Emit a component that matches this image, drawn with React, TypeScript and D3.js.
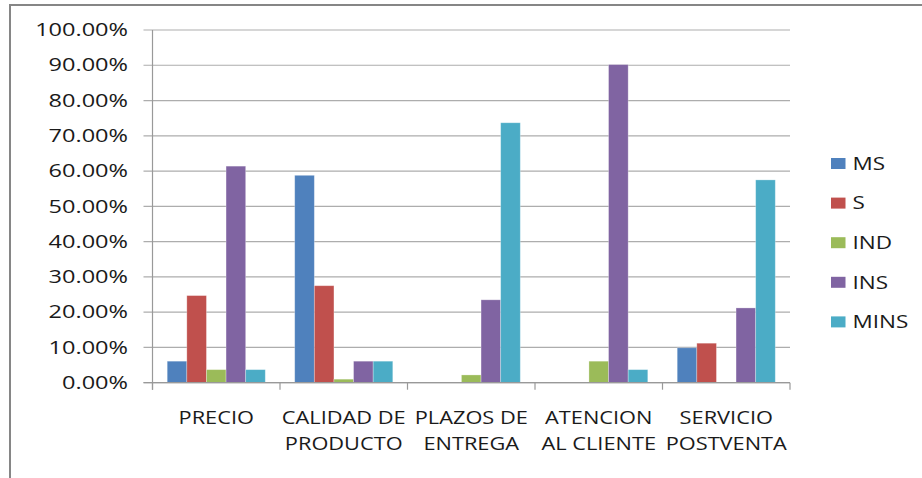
import React from "react";
import * as d3 from "d3";

const categories: string[][] = [
  ["PRECIO"],
  ["CALIDAD DE", "PRODUCTO"],
  ["PLAZOS DE", "ENTREGA"],
  ["ATENCION", "AL CLIENTE"],
  ["SERVICIO", "POSTVENTA"],
];
const seriesNames = ["MS", "S", "IND", "INS", "MINS"];
const seriesColors = ["#4F81BD", "#C0504D", "#9BBB59", "#8064A2", "#4BACC6"];
const MS = [0.061, 0.588, 0, 0, 0.099];
const S = [0.247, 0.275, 0, 0, 0.112];
const IND = [0.037, 0.01, 0.022, 0.061, 0];
const INS = [0.614, 0.061, 0.235, 0.902, 0.212];
const MINS = [0.037, 0.061, 0.737, 0.037, 0.575];
const seriesValues = [MS, S, IND, INS, MINS];
const yTicks = [0, 0.1, 0.2, 0.3, 0.4, 0.5, 0.6, 0.7, 0.8, 0.9, 1.0];

const W = 922;
const H = 478;
const left = 152.5;
const right = 790;
const top = 30;
const bottom = 382.7;
const FONT = "'Open Sans', 'DejaVu Sans', sans-serif";

export default function App() {
  const x0 = d3
    .scaleBand<number>()
    .domain(categories.map((_, i) => i))
    .range([left, right])
    .paddingInner(0)
    .paddingOuter(0);
  const x1 = d3
    .scaleBand<number>()
    .domain(seriesNames.map((_, i) => i))
    .range([0, x0.bandwidth()])
    .paddingInner(0)
    .paddingOuter(0.75);
  const y = d3.scaleLinear().domain([0, 1]).range([bottom, top]);
  const fmt = (v: number) => (v * 100).toFixed(2) + "%";
  const boundaries = d3.range(categories.length + 1).map((i) =>
    i < categories.length ? (x0(i) as number) : right
  );

  return (
    <svg
      width={W}
      height={H}
      style={{ position: "absolute", left: 0, top: 0, background: "#fff" }}
      fontFamily={FONT}
    >
      <rect x={0} y={0} width={W} height={H} fill="#fff" />
      {/* outer chart border */}
      <rect x={10} y={5} width={W + 20} height={H + 20} fill="none" stroke="#868686" strokeWidth={2} />
      {/* gridlines */}
      {yTicks.map((t) => (
        <line
          key={"g" + t}
          x1={left - 9}
          x2={right}
          y1={y(t)}
          y2={y(t)}
          stroke="#adadad"
          strokeWidth={1.2}
        />
      ))}
      {/* y labels */}
      {yTicks.map((t) => (
        <g key={"yl" + t} transform={`translate(128,${y(t) + 6.2}) scale(1.36,1)`}>
          <text x={0} y={0} textAnchor="end" fontSize={17.3} fill="#1a1a1a">
            {fmt(t)}
          </text>
        </g>
      ))}
      {/* bars */}
      {categories.map((_, ci) => (
        <g key={"c" + ci} transform={`translate(${x0(ci)},0)`}>
          {seriesValues.map((vals, si) =>
            vals[ci] > 0 ? (
              <rect
                key={si}
                x={x1(si)}
                y={y(vals[ci])}
                width={x1.bandwidth()}
                height={bottom - y(vals[ci])}
                fill={seriesColors[si]}
                stroke="rgba(255,255,255,0.35)"
                strokeWidth={0.8}
              />
            ) : null
          )}
        </g>
      ))}
      {/* y axis */}
      <line x1={left} x2={left} y1={top} y2={bottom + 7} stroke="#999" strokeWidth={1.2} />
      {/* x axis */}
      <line x1={left - 9} x2={right} y1={bottom} y2={bottom} stroke="#999" strokeWidth={1.2} />
      {boundaries.map((b, i) => (
        <line key={"xt" + i} x1={b} x2={b} y1={bottom} y2={bottom + 7} stroke="#999" strokeWidth={1.2} />
      ))}
      {/* category labels */}
      {categories.map((lines, ci) => (
        <g key={"cl" + ci} transform={`translate(${(x0(ci) as number) + x0.bandwidth() / 2},0)`}>
          {lines.map((ln, li) => (
            <g key={li} transform={`translate(0,${424.3 + li * 25.8}) scale(1.26,1)`}>
              <text x={0} y={0} textAnchor="middle" fontSize={17.3} fill="#1a1a1a">
                {ln}
              </text>
            </g>
          ))}
        </g>
      ))}
      {/* legend */}
      {seriesNames.map((n, i) => {
        const cy = 163.5 + i * 39.6;
        return (
          <g key={"lg" + i}>
            <rect x={831} y={cy - 5.5} width={14.5} height={11} fill={seriesColors[i]} />
            <g transform={`translate(852.5,${cy + 6.2}) scale(1.3,1)`}>
              <text x={0} y={0} fontSize={17.3} fill="#1a1a1a">
                {n}
              </text>
            </g>
          </g>
        );
      })}
    </svg>
  );
}
